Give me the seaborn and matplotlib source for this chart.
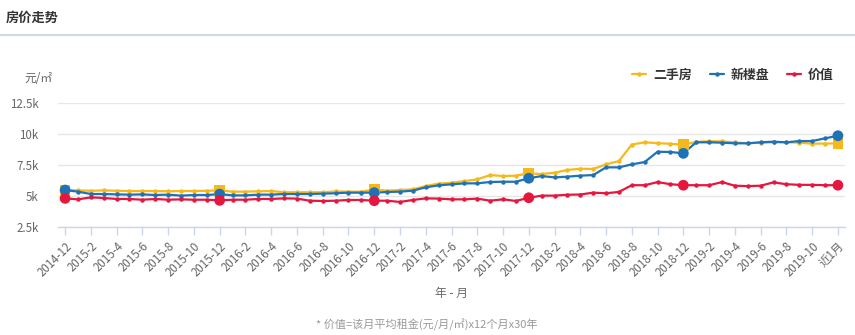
import numpy as np
import pandas as pd
import matplotlib
matplotlib.use("Agg")
import matplotlib.pyplot as plt
from matplotlib.lines import Line2D
import seaborn as sns

# ---------------- data ----------------
months = []
for y in range(2014, 2020):
    for m in range(1, 13):
        if (y == 2014 and m < 12):
            continue
        if y == 2019 and m > 11:
            continue
        months.append(f"{y}-{m}")
months.append("近1月")

second_hand = [5480, 5450, 5420, 5450, 5420, 5400, 5400, 5400, 5380, 5400,
               5400, 5420, 5450, 5350, 5350, 5380, 5400, 5300, 5300, 5300,
               5300, 5370, 5350, 5350, 5530, 5430, 5480, 5540, 5800, 6000,
               6070, 6200, 6340, 6690, 6610, 6640, 6820, 6770, 6880, 7100,
               7200, 7180, 7550, 7820, 9150, 9330, 9260, 9210, 9130, 9360,
               9420, 9400, 9320, 9250, 9300, 9330, 9330, 9300, 9220, 9230,
               9240]
new_homes = [5480, 5350, 5160, 5160, 5130, 5110, 5130, 5080, 5110, 5030,
             5080, 5080, 5150, 5050, 5050, 5110, 5110, 5160, 5160, 5160,
             5190, 5220, 5270, 5270, 5270, 5320, 5350, 5430, 5700, 5860,
             5940, 6020, 6020, 6130, 6150, 6150, 6430, 6610, 6500, 6560,
             6640, 6690, 7310, 7310, 7550, 7740, 8570, 8550, 8440, 9330,
             9330, 9300, 9250, 9250, 9330, 9380, 9330, 9430, 9430, 9650,
             9860]
value = [4810, 4730, 4890, 4840, 4760, 4760, 4700, 4760, 4700, 4730,
         4700, 4700, 4650, 4700, 4700, 4760, 4760, 4810, 4790, 4620,
         4600, 4620, 4680, 4680, 4620, 4620, 4520, 4680, 4810, 4790,
         4730, 4730, 4790, 4620, 4730, 4600, 4860, 5030, 5030, 5100,
         5120, 5270, 5220, 5330, 5870, 5870, 6120, 5950, 5870, 5870,
         5870, 6120, 5830, 5800, 5830, 6100, 5950, 5900, 5900, 5870,
         5870]

series_names = ["二手房", "新楼盘", "价值"]
y_ticks = [2500, 5000, 7500, 10000, 12500]
y_tick_labels = ["2.5k", "5k", "7.5k", "10k", "12.5k"]
highlight_idx = [0, 12, 24, 36, 48, 60]

colors = {"二手房": "#f5b91c", "新楼盘": "#1f72b6", "价值": "#e5173f"}

# --------------- figure ---------------
sns.set_theme(style="white")
plt.rcParams['font.family'] = ['Noto Sans CJK SC', 'DejaVu Sans']

W, H = 855, 335
fig = plt.figure(figsize=(W / 100, H / 100), dpi=100)
fig.patch.set_facecolor("white")

left, right, top, bottom = 58, 845, 103, 227
ax = fig.add_axes([left / W, 1 - bottom / H, (right - left) / W, (bottom - top) / H])

df = pd.DataFrame({"idx": np.arange(len(months)), "month": months,
                   "二手房": second_hand, "新楼盘": new_homes, "价值": value})
long = df.melt(id_vars=["idx", "month"], value_vars=series_names,
               var_name="series", value_name="price")

handles = []
for name in series_names:
    sub = long[long.series == name]
    sns.lineplot(data=sub, x="idx", y="price", ax=ax, color=colors[name],
                 linewidth=1.6, marker="o", markersize=3.2, markeredgewidth=0,
                 zorder=3, legend=False)
    hi = sub[sub.idx.isin(highlight_idx)]
    sns.scatterplot(data=hi, x="idx", y="price", ax=ax, color=colors[name],
                    marker="s" if name == "二手房" else "o",
                    s=60, edgecolor="none", zorder=4, legend=False)
    handles.append(Line2D([0], [0], color=colors[name], linewidth=1.6,
                          marker="o", markersize=3.2, markeredgewidth=0))

ax.set_xlim(-0.55, len(months) - 1 + 0.55)
ax.set_ylim(2500, 12500)
ax.set_yticks(y_ticks)
ax.set_yticklabels(y_tick_labels)
tick_pos = list(range(0, len(months), 2))
ax.set_xticks(tick_pos)
ax.set_xticklabels([months[i] for i in tick_pos], rotation=45, ha="right",
                   rotation_mode="anchor")

ax.grid(axis="y", color="#e6e6e6", linewidth=1)
ax.grid(axis="x", visible=False)
for s in ["top", "right", "left"]:
    ax.spines[s].set_visible(False)
ax.spines["bottom"].set_color("#ccd6eb")
ax.spines["bottom"].set_linewidth(1)
ax.tick_params(axis="x", which="major", bottom=True, length=6, width=1,
               color="#ccd6eb", labelsize=8.3, labelcolor="#666666", pad=3)
ax.tick_params(axis="y", left=False, labelsize=8.3, labelcolor="#666666", pad=8)
ax.set_xlabel("年 - 月", fontsize=8.5, color="#666666", labelpad=6)
ax.set_ylabel("")

# unit label
fig.text(53 / W, 1 - 79 / H, "元/㎡", ha="right", va="center",
         fontsize=8.5, color="#666666")

# title and separator line
fig.text(6 / W, 1 - 18 / H, "房价走势", ha="left", va="center",
         fontsize=9.5, fontweight="bold", color="#333333")
fig.add_artist(Line2D([0, 1], [1 - 35 / H, 1 - 35 / H], transform=fig.transFigure,
                      color="#d0d8e0", linewidth=1.5))

# legend
leg = fig.legend(handles, series_names, loc="center right",
                 bbox_to_anchor=(845 / W, 1 - 75 / H), ncol=3, frameon=False,
                 handlelength=1.1, handletextpad=0.5, columnspacing=1.4,
                 prop={"size": 9.3, "weight": "bold"})
for t in leg.get_texts():
    t.set_color("#333333")

# footnote
fig.text(427 / W, 1 - 325 / H, "* 价值=该月平均租金(元/月/㎡)x12个月x30年",
         ha="center", va="center", fontsize=8, color="#999999")

fig.savefig("out.png", dpi=100, facecolor="white")
